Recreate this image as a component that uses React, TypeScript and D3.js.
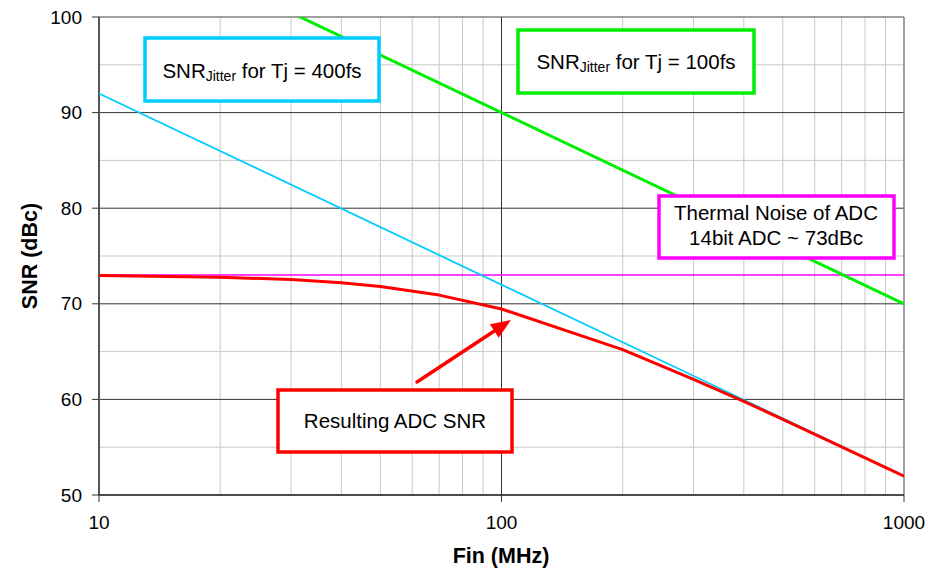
import React from "react";
import * as d3 from "d3";

const freqs = [10, 20, 30, 40, 50, 70, 100, 200, 300, 400, 500, 700, 1000];
const resultingSnr = [72.95, 72.79, 72.53, 72.21, 71.81, 70.91, 69.46, 65.21, 62.09, 59.79, 57.92, 55.03, 51.97];
const jitterFreqs = [10, 1000];
const jitter400 = [92, 52];
const jitter100 = [110, 70];
const thermalFreqs = [10, 1000];
const thermal = [73, 73];
const xTicks = [10, 100, 1000];
const yTicks = [50, 60, 70, 80, 90, 100];
const yMinor = [55, 65, 75, 85, 95];

const W = 928, H = 571;
const L = 99, R = 904, T = 17, B = 495;
const FONT = "Liberation Sans, Arial, sans-serif";

export default function App() {
  const x = d3.scaleLog().domain([10, 1000]).range([L, R]);
  const y = d3.scaleLinear().domain([50, 100]).range([B, T]);
  const line = d3
    .line<[number, number]>()
    .x((d) => x(d[0]))
    .y((d) => y(d[1]));
  const zip = (a: number[], b: number[]) => a.map((v, i) => [v, b[i]] as [number, number]);

  const minorX: number[] = [];
  for (const dec of [10, 100]) for (let k = 2; k <= 9; k++) minorX.push(dec * k);

  const boxes = [
    { x0: 145, y0: 38, x1: 379, y1: 101, color: "#00ccff" },
    { x0: 518, y0: 30, x1: 754, y1: 93, color: "#00ee00" },
    { x0: 659, y0: 196, x1: 894, y1: 258, color: "#ff00ff" },
    { x0: 278, y0: 390, x1: 512, y1: 452, color: "#ff0000" },
  ];

  const ax0 = 417, ay0 = 382, ax1 = 511, ay1 = 320;
  const ang = Math.atan2(ay1 - ay0, ax1 - ax0);
  const hl = 20, hw = 8;
  const bx = ax1 - hl * Math.cos(ang), by = ay1 - hl * Math.sin(ang);
  const px = -Math.sin(ang), py = Math.cos(ang);
  const head = `${ax1},${ay1} ${bx + px * hw},${by + py * hw} ${bx - px * hw},${by - py * hw}`;

  return (
    <svg width={W} height={H} style={{ position: "absolute", left: 0, top: 0, background: "#fff" }} fontFamily={FONT}>
      <defs>
        <clipPath id="plot">
          <rect x={L} y={T} width={R - L} height={B - T} />
        </clipPath>
      </defs>
      {/* minor grid */}
      {minorX.map((f) => (
        <line key={"mx" + f} x1={x(f)} x2={x(f)} y1={T} y2={B} stroke="#c8c8c8" strokeWidth={1} />
      ))}
      {yMinor.map((v) => (
        <line key={"my" + v} x1={L} x2={R} y1={y(v)} y2={y(v)} stroke="#c8c8c8" strokeWidth={1} />
      ))}
      {/* major grid */}
      {yTicks.map((v) => (
        <line key={"gy" + v} x1={L} x2={R} y1={y(v)} y2={y(v)} stroke={v === 100 ? "#808080" : "#333"} strokeWidth={v === 100 ? 1.5 : 1} />
      ))}
      {xTicks.map((f) => (
        <line key={"gx" + f} x1={x(f)} x2={x(f)} y1={T} y2={B} stroke={f === 1000 ? "#808080" : "#333"} strokeWidth={f === 1000 ? 1.5 : 1} />
      ))}
      {/* axes */}
      <line x1={L} x2={L} y1={T} y2={B} stroke="#555" strokeWidth={2} />
      <line x1={L} x2={R} y1={B} y2={B} stroke="#333" strokeWidth={1.5} />
      {yTicks.map((v) => (
        <g key={"ty" + v}>
          <line x1={L - 7} x2={L} y1={y(v)} y2={y(v)} stroke="#333" strokeWidth={1} />
          <text x={82} y={y(v)} dy="0.35em" textAnchor="end" fontSize={19} fill="#000">
            {v}
          </text>
        </g>
      ))}
      {xTicks.map((f) => (
        <g key={"tx" + f}>
          <line x1={x(f)} x2={x(f)} y1={B} y2={B + 7} stroke="#333" strokeWidth={1} />
          <text x={x(f)} y={529} textAnchor="middle" fontSize={19} fill="#000">
            {f}
          </text>
        </g>
      ))}
      <text x={501} y={563} textAnchor="middle" fontSize={21.5} fontWeight="bold">
        Fin (MHz)
      </text>
      <text transform={`translate(37,256) rotate(-90)`} textAnchor="middle" fontSize={21.5} fontWeight="bold">
        SNR (dBc)
      </text>
      {/* series */}
      <g clipPath="url(#plot)">
        <path d={line(zip(thermalFreqs, thermal)) || ""} fill="none" stroke="#ff00ff" strokeWidth={1.5} />
        <path d={line(zip(jitterFreqs, jitter400)) || ""} fill="none" stroke="#00ccff" strokeWidth={1.8} />
        <path d={line(zip(jitterFreqs, jitter100)) || ""} fill="none" stroke="#00ee00" strokeWidth={3} />
        <path d={line(zip(freqs, resultingSnr)) || ""} fill="none" stroke="#ff0000" strokeWidth={3} strokeLinejoin="round" />
      </g>
      {/* annotation boxes */}
      {boxes.map((b, i) => (
        <rect key={"b" + i} x={b.x0} y={b.y0} width={b.x1 - b.x0} height={b.y1 - b.y0} fill="#fff" stroke={b.color} strokeWidth={3.5} />
      ))}
      <text x={262} y={78} textAnchor="middle" fontSize={20.5}>
        SNR<tspan fontSize={14} dy={3}>Jitter</tspan>
        <tspan dy={-3}> for Tj = 400fs</tspan>
      </text>
      <text x={636} y={69} textAnchor="middle" fontSize={20.5}>
        SNR<tspan fontSize={14} dy={3}>Jitter</tspan>
        <tspan dy={-3}> for Tj = 100fs</tspan>
      </text>
      <text x={776} y={220} textAnchor="middle" fontSize={20.5}>
        Thermal Noise of ADC
      </text>
      <text x={776} y={245} textAnchor="middle" fontSize={20.5}>
        14bit ADC ~ 73dBc
      </text>
      <text x={395} y={428} textAnchor="middle" fontSize={20.5}>
        Resulting ADC SNR
      </text>
      {/* arrow */}
      <line x1={ax0} y1={ay0} x2={bx} y2={by} stroke="#ff0000" strokeWidth={3.5} strokeLinecap="round" />
      <polygon points={head} fill="#ff0000" />
    </svg>
  );
}
